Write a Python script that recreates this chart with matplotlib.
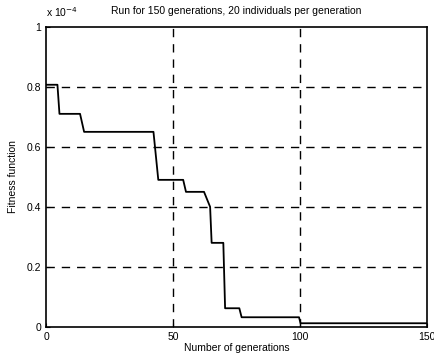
import matplotlib.pyplot as plt
import numpy as np

plt.rcParams['font.family'] = ['Liberation Sans', 'DejaVu Sans']

# best fitness per generation (x 1e-4) at the corners of the curve
generations = [0, 4.5, 5.3, 13.4, 15.0, 42.3, 44.2, 54.0, 55.1, 62.2, 64.6, 65.2,
               69.8, 70.5, 76.1, 77.0, 99.6, 100.2, 150]
fitness = [0.807, 0.807, 0.710, 0.710, 0.650, 0.650, 0.490, 0.490, 0.450, 0.450,
           0.400, 0.280, 0.280, 0.062, 0.062, 0.032, 0.032, 0.012, 0.012]

x_ticks = [0, 50, 100, 150]
y_ticks = [0, 0.2, 0.4, 0.6, 0.8, 1]

fig = plt.figure(figsize=(4.34, 3.58), dpi=100)
ax = fig.add_axes([0.106, 0.087, 0.878, 0.838])

ax.plot(generations, fitness, color='black', linewidth=1.3, zorder=3)

ax.set_xlim(0, 150)
ax.set_ylim(0, 1)
ax.set_xticks(x_ticks)
ax.set_yticks(y_ticks)
ax.set_yticklabels(['0', '0.2', '0.4', '0.6', '0.8', '1'])
ax.grid(True, color='black', linestyle=(0, (6, 5)), linewidth=1.0)
# gridlines that sit on the box edges are hidden, the spines take their place
for gl in [ax.xaxis.get_gridlines()[0], ax.xaxis.get_gridlines()[-1],
           ax.yaxis.get_gridlines()[0], ax.yaxis.get_gridlines()[-1]]:
    gl.set_visible(False)
ax.tick_params(direction='in', labelsize=7.5, length=3)
for s in ax.spines.values():
    s.set_linewidth(1.2)

ax.set_title('Run for 150 generations, 20 individuals per generation', fontsize=7.5, pad=9)
ax.set_xlabel('Number of generations', fontsize=7.5, labelpad=1)
ax.set_ylabel('Fitness function', fontsize=7.5, labelpad=6)
ax.text(0.0, 1.025, r'x 10$^{-4}$', transform=ax.transAxes, fontsize=7.5, ha='left', va='bottom')

fig.savefig('out.png', dpi=100)
